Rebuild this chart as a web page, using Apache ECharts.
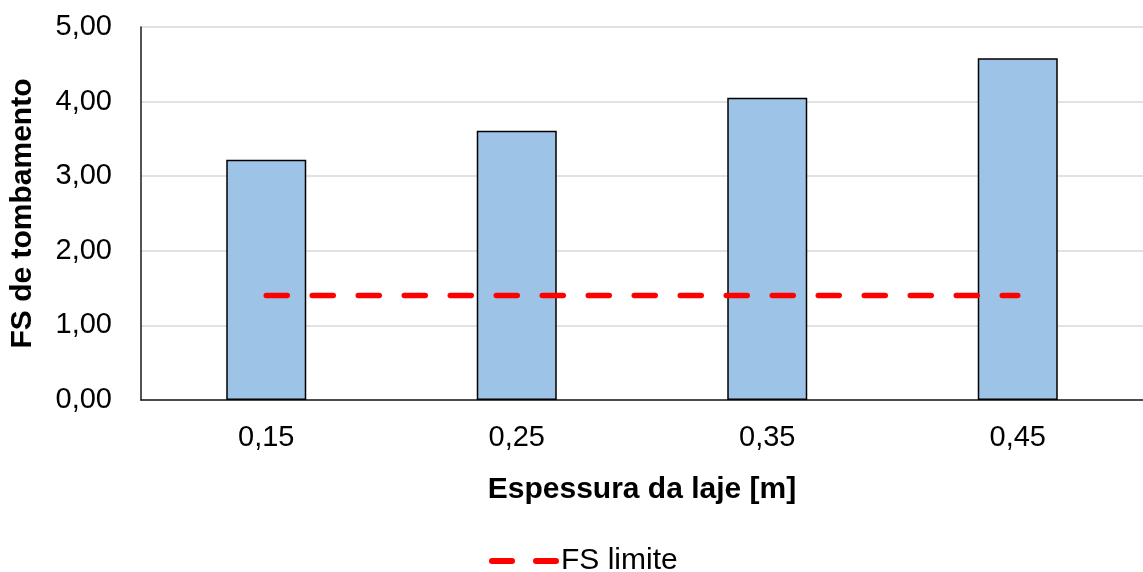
<!DOCTYPE html>
<html><head><meta charset="utf-8">
<script src="https://cdn.jsdelivr.net/npm/echarts@6/dist/echarts.min.js"></script>
<style>html,body{margin:0;padding:0;background:#fff}#c{width:1143px;height:572px}</style>
</head><body><div id="c"></div>
<script>
const categories = ['0,15', '0,25', '0,35', '0,45'];
const fsValues = [3.22, 3.61, 4.05, 4.58];
const fsLimite = [1.40, 1.40, 1.40, 1.40];
const yTicks = [0, 1, 2, 3, 4, 5];

const chart = echarts.init(document.getElementById('c'));
const font = 'Liberation Sans, Arial, sans-serif';
chart.setOption({
  animation: false,
  grid: { left: 141, right: -10, top: 27, bottom: 172 },
  xAxis: {
    type: 'category', data: categories,
    name: 'Espessura da laje [m]', nameLocation: 'middle', nameGap: 75,
    nameTextStyle: { fontFamily: font, fontSize: 30, fontWeight: 'bold', color: '#000' },
    axisLine: { lineStyle: { color: '#1a1a1a', width: 1.5 } },
    axisTick: { show: false },
    axisLabel: { fontFamily: font, fontSize: 29, color: '#000', margin: 23 }
  },
  yAxis: {
    type: 'value', min: yTicks[0], max: yTicks[yTicks.length - 1], interval: 1,
    name: 'FS de tombamento', nameLocation: 'middle', nameGap: 103,
    nameTextStyle: { fontFamily: font, fontSize: 30, fontWeight: 'bold', color: '#000' },
    axisLine: { show: true, lineStyle: { color: '#1a1a1a', width: 1.5 } },
    axisTick: { show: false },
    splitLine: { lineStyle: { color: '#d9d9d9', width: 1.5 } },
    axisLabel: { fontFamily: font, fontSize: 29, color: '#000', margin: 29,
      formatter: v => v.toFixed(2).replace('.', ',') }
  },
  legend: {
    data: ['FS limite'], top: 541, left: 484,
    itemWidth: 70, itemHeight: 14, itemGap: 4,
    itemStyle: { opacity: 0 },
    lineStyle: { color: '#ff0000', width: 6, type: [20, 24], cap: 'round' },
    textStyle: { fontFamily: font, fontSize: 30, color: '#000', padding: [0, 0, 0, -6] }
  },
  series: [
    { name: 'FS', type: 'bar', data: fsValues, barWidth: 80,
      itemStyle: { color: '#9dc3e6', borderColor: '#000', borderWidth: 1.5 } },
    { name: 'FS limite', type: 'line', data: fsLimite, symbol: 'none', z: 5,
      lineStyle: { color: '#ff0000', width: 5.5, type: [21, 25], cap: 'round' } }
  ]
});
</script></body></html>
